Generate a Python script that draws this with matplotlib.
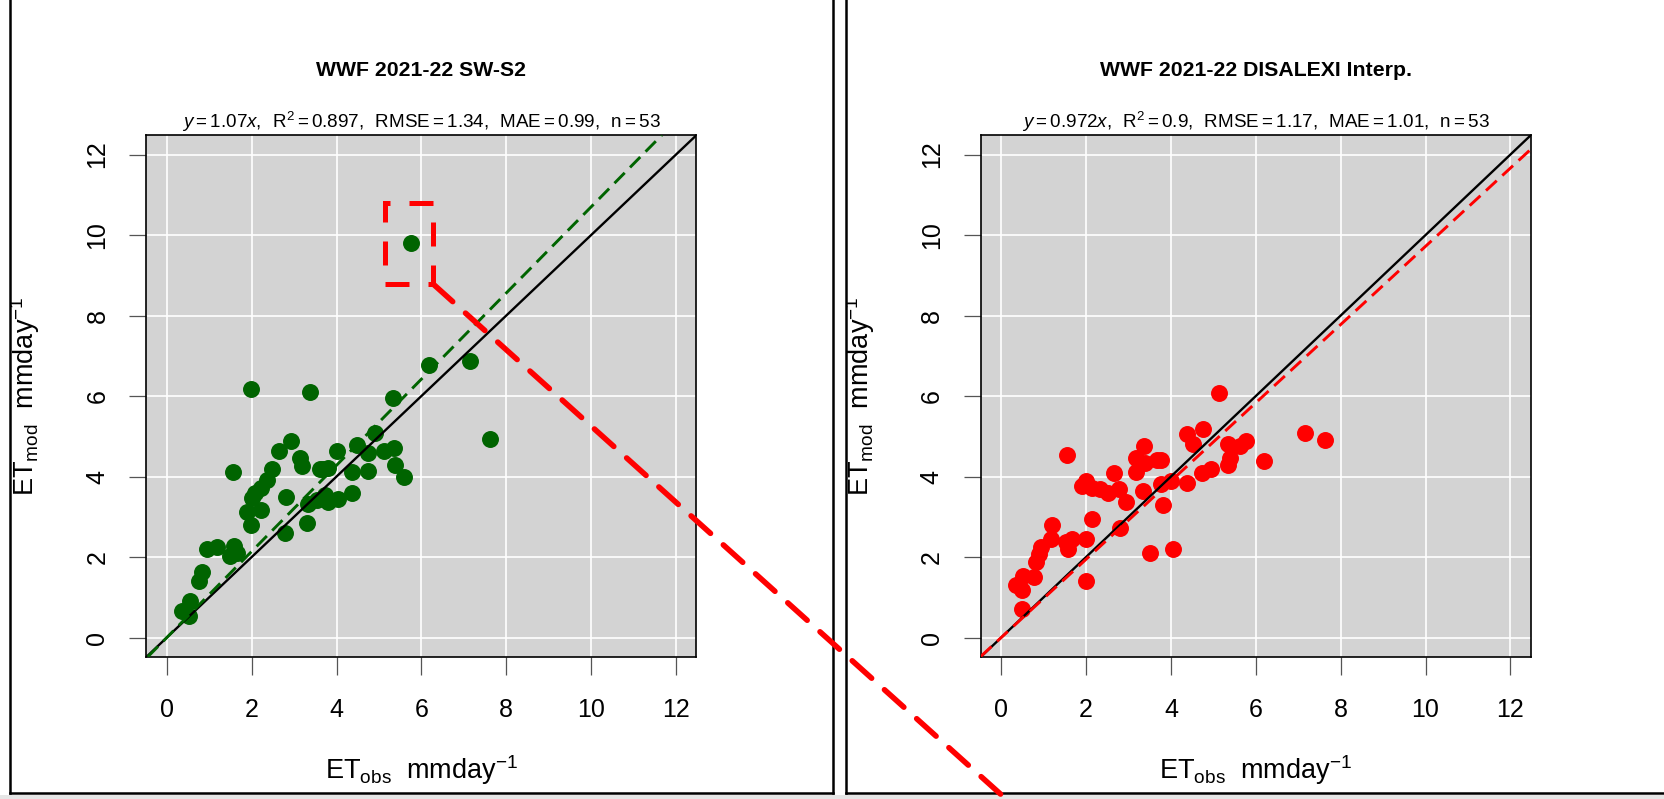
import numpy as np
import matplotlib.pyplot as plt
from matplotlib.lines import Line2D
from matplotlib.patches import Rectangle, ConnectionPatch

plt.rcParams["font.family"] = ["Liberation Sans", "DejaVu Sans"]
plt.rcParams["mathtext.fontset"] = "custom"
plt.rcParams["mathtext.rm"] = "Liberation Sans"
plt.rcParams["mathtext.it"] = "Liberation Sans:italic"
plt.rcParams["mathtext.bf"] = "Liberation Sans:bold"

# daily ET (mm/day), flux tower obs vs SW-S2 model
obs_sw = [5.75, 1.98, 3.37, 6.18, 7.15, 5.33, 7.62, 4.91, 2.92, 2.65,
          3.15, 3.18, 4.00, 4.49, 4.73, 5.12, 5.35, 5.37, 5.60, 4.74,
          4.37, 3.62, 3.80, 2.49, 1.55, 2.36, 2.23, 2.08, 2.00, 2.80,
          3.74, 3.81, 4.03, 4.37, 3.32, 3.53, 2.22, 1.88, 1.98, 3.31,
          2.78, 0.94, 1.19, 1.58, 1.48, 1.65, 0.83, 0.77, 0.54, 0.35,
          0.52, 3.68, 1.60]
mod_sw = [9.79, 6.18, 6.10, 6.78, 6.87, 5.95, 4.94, 5.09, 4.88, 4.64,
          4.47, 4.25, 4.64, 4.79, 4.59, 4.64, 4.72, 4.28, 4.00, 4.13,
          4.11, 4.19, 4.22, 4.19, 4.11, 3.91, 3.72, 3.59, 3.46, 3.49,
          3.55, 3.38, 3.45, 3.59, 3.31, 3.42, 3.17, 3.11, 2.80, 2.84,
          2.61, 2.20, 2.24, 2.27, 2.03, 2.10, 1.63, 1.41, 0.90, 0.66,
          0.54, 4.20, 2.15]

# obs vs DISALEXI (interpolated)
obs_dis = [5.14, 7.16, 7.63, 6.20, 1.55, 4.75, 4.38, 4.52, 3.36, 3.17,
           3.39, 3.18, 3.68, 3.77, 2.65, 5.34, 5.63, 5.77, 5.40, 5.34,
           4.73, 4.94, 4.38, 4.01, 3.77, 3.34, 2.78, 2.94, 2.51, 2.33,
           2.14, 2.00, 1.90, 3.82, 2.81, 2.14, 2.00, 1.66, 1.52, 1.58,
           1.20, 1.18, 0.94, 0.89, 0.82, 0.77, 0.51, 0.35, 0.49, 0.48,
           2.00, 3.51, 4.06]
mod_dis = [6.07, 5.07, 4.90, 4.39, 4.53, 5.18, 5.05, 4.82, 4.77, 4.47,
           4.34, 4.11, 4.42, 4.41, 4.09, 4.82, 4.76, 4.88, 4.45, 4.28,
           4.09, 4.19, 3.83, 3.89, 3.81, 3.64, 3.68, 3.36, 3.59, 3.68,
           3.72, 3.88, 3.76, 3.29, 2.71, 2.95, 2.44, 2.46, 2.37, 2.20,
           2.80, 2.46, 2.25, 2.08, 1.88, 1.50, 1.54, 1.30, 1.18, 0.71,
           1.41, 2.10, 2.20]

# fit stats printed above each panel
slope_sw, r2_sw, rmse_sw, mae_sw = 1.07, 0.897, 1.34, 0.99
slope_dis, r2_dis, rmse_dis, mae_dis = 0.972, 0.9, 1.17, 1.01

ticks = [0, 2, 4, 6, 8, 10, 12]
lims = (-0.48, 12.48)

W, H = 1665, 799
fig = plt.figure(figsize=(W / 100, H / 100), dpi=100)


def px(x, y):
    return x / W, 1 - y / H


def stats_label(slope, r2, rmse, mae, n):
    return (rf"$y = {slope:g}x,\ \,\mathrm{{R}}^2 = {r2:g},\ \,"
            rf"\mathrm{{RMSE}} = {rmse:g},\ \,\mathrm{{MAE}} = {mae:g},\ \,"
            rf"\mathrm{{n}} = {n}$")


def scatter_panel(left, frame_left, title, obs, mod, color, slope, r2, rmse, mae):
    bottom = 1 - 656.9 / H
    ax = fig.add_axes([left / W, bottom, 550 / W, 521.7 / H])
    ax.set_facecolor("#D3D3D3")
    ax.scatter(obs, mod, s=125, color=color, edgecolors=color, zorder=3)
    ax.axline((0, 0), slope=1, color="black", lw=1.7, zorder=4)
    ax.axline((0, 0), slope=slope, color=color, lw=2.1,
              linestyle=(0, (5.0, 2.6)), zorder=5)
    ax.set_xlim(lims)
    ax.set_ylim(lims)
    ax.set_xticks(ticks, labels=[str(t) for t in ticks])
    ax.set_yticks(ticks, labels=[str(t) for t in ticks], rotation=90, va="center")
    ax.grid(color="white", lw=1.2)
    ax.set_axisbelow(True)
    ax.tick_params(color="#555555", length=12.6, width=0.9, labelsize=18)
    ax.tick_params(axis="x", pad=17)
    ax.tick_params(axis="y", pad=14)
    for sp in ax.spines.values():
        sp.set_linewidth(1.2)

    cx = left + 275
    fig.text(*px(cx, 76), title, ha="center", va="baseline",
             fontsize=15.3, fontweight="bold")
    fig.text(*px(cx, 128.3), stats_label(slope, r2, rmse, mae, len(obs)),
             ha="center", va="baseline", fontsize=13.6)
    fig.text(*px(cx, 779), r"$\mathrm{ET_{obs}\ \ mmday^{-1}}$",
             ha="center", va="baseline", fontsize=19.5)
    ylab = fig.text(*px(left - 112, 396), r"$\mathrm{ET_{mod}\ \ mmday^{-1}}$",
                    ha="center", va="baseline", rotation=90,
                    rotation_mode="anchor", fontsize=19.5)
    # the label runs past the panel frame on the left
    clip = Rectangle(px(frame_left, 793), (W - frame_left) / W, 793 / H,
                     transform=fig.transFigure, visible=False)
    fig.add_artist(clip)
    ylab.set_clip_path(clip)
    ylab.set_clip_on(True)
    return ax


ax1 = scatter_panel(146.4, 10, "WWF 2021-22 SW-S2", obs_sw, mod_sw,
                    "#006400", slope_sw, r2_sw, rmse_sw, mae_sw)
ax2 = scatter_panel(980.8, 845.7, "WWF 2021-22 DISALEXI Interp.", obs_dis, mod_dis,
                    "#FF0000", slope_dis, r2_dis, rmse_dis, mae_dis)

# panel frames
frame_kw = dict(transform=fig.transFigure, color="black", lw=1.8)
for xs, ys in [([10, 10], [0, 793]), ([832.7, 832.7], [0, 793]),
               ([10, 832.7], [793, 793]), ([845.7, 845.7], [0, 793]),
               ([845.7, W], [793, 793])]:
    fig.add_artist(Line2D([x / W for x in xs], [1 - y / H for y in ys], **frame_kw))
fig.add_artist(Rectangle((0, 0), 1, 4 / H, transform=fig.transFigure,
                         facecolor="#E6E6E6", edgecolor="none"))

# highlight the outlier in the SW-S2 panel
box_x0, box_x1 = 5.15, 6.28
box_y0, box_y1 = 8.78, 10.79
ax1.add_patch(Rectangle((box_x0, box_y0), box_x1 - box_x0, box_y1 - box_y0,
                        fill=False, edgecolor="red", lw=3.6,
                        linestyle=(0, (4.8, 3.8)), clip_on=False, zorder=10))
pointer = ConnectionPatch(xyA=(box_x1, box_y0), coordsA=ax1.transData,
                          xyB=px(1006, 799), coordsB=fig.transFigure,
                          color="red", lw=4, linestyle=(0, (4.7, 3.1)),
                          zorder=20)
fig.add_artist(pointer)

fig.savefig("out.png", dpi=100)
